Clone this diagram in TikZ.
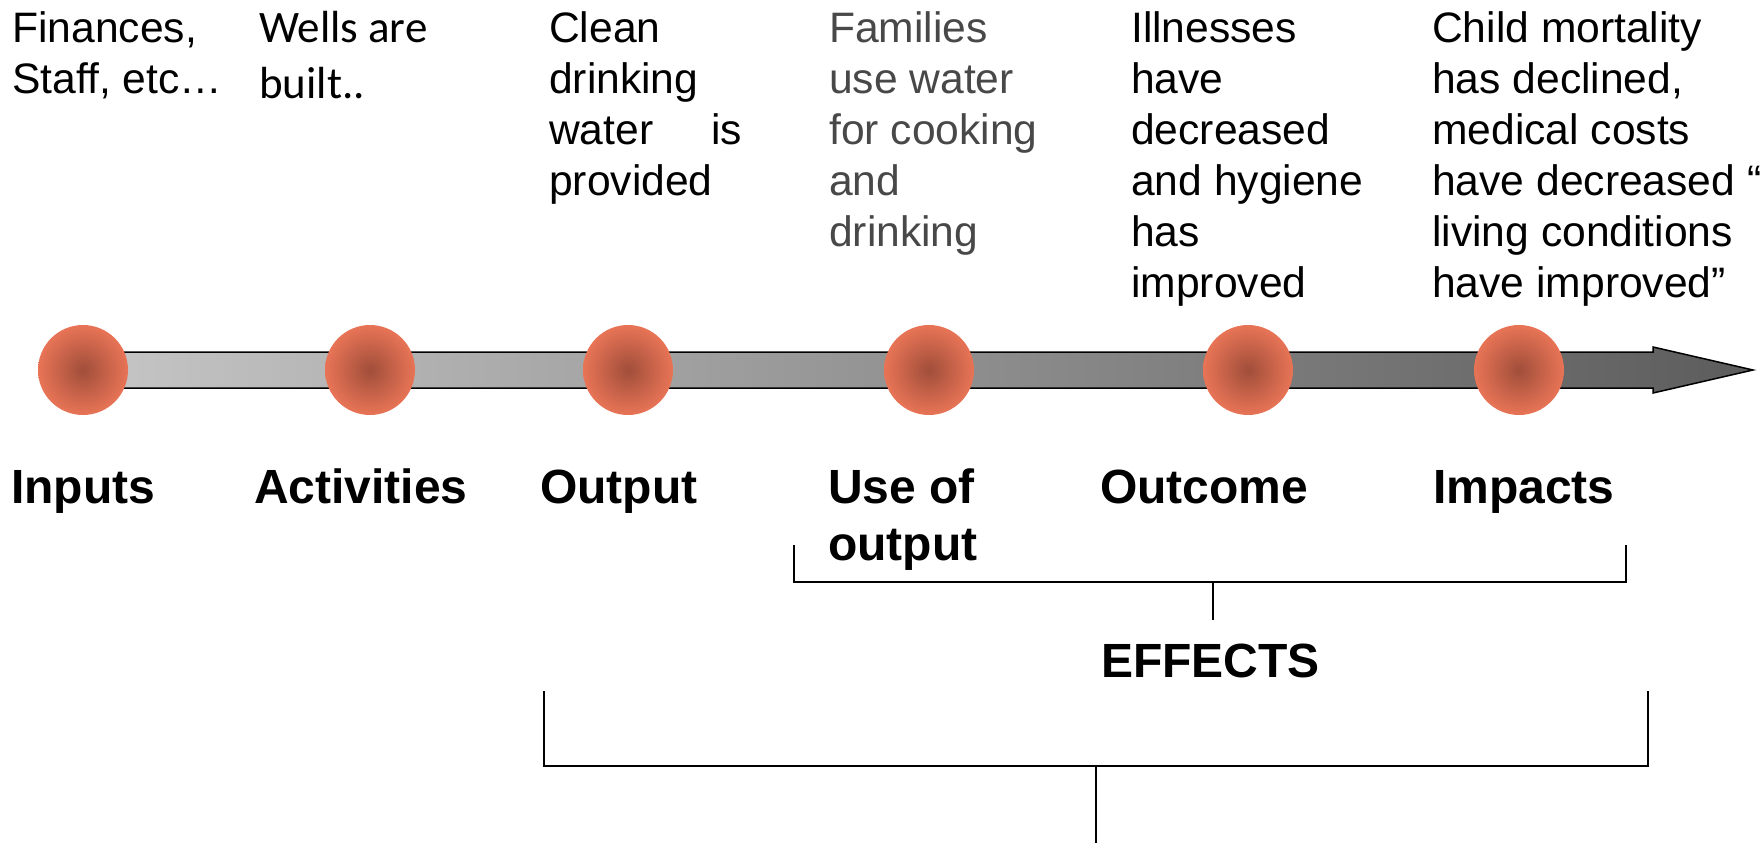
\documentclass[tikz,border=0pt]{standalone}
\usepackage{fontspec}
\setmainfont{Liberation Sans}
\newfontfamily\calib{Carlito}
\definecolor{dotin}{RGB}{160,78,58}
\definecolor{dotout}{RGB}{232,116,86}
\definecolor{barl}{RGB}{198,198,198}
\definecolor{barr}{RGB}{92,92,92}
\definecolor{graytxt}{RGB}{72,72,72}
\tikzset{
  dot/.style={circle, minimum size=90pt, inner sep=0pt, shading=radial, inner color=dotin, outer color=dotout},
  toptext/.style={anchor=base west, inner sep=0pt, font=\fontsize{42.6}{51}\selectfont},
  lbl/.style={anchor=base west, inner sep=0pt, font=\fontsize{48}{57}\selectfont\bfseries},
  brk/.style={draw=black, line width=1.5pt}
}
\begin{document}
\begin{tikzpicture}[x=1pt,y=-1pt]
\useasboundingbox (0,0) rectangle (1764,843);
% bar arrow
\draw[line width=1.5pt, left color=barl, right color=barr]
  (83,352) -- (1653,352) -- (1653,347) -- (1753,370) -- (1653,393) -- (1653,388) -- (83,388) -- cycle;
% dots
\node[dot] (c1) at (83,370) {};
\node[dot] (c2) at (370,370) {};
\node[dot] (c3) at (628,370) {};
\node[dot] (c4) at (929,370) {};
\node[dot] (c5) at (1248,370) {};
\node[dot] (c6) at (1519,370) {};
% top texts
\node[toptext] (t1) at (12,43) {\parbox[t]{220pt}{\raggedright Finances,\\Staff, etc…}};
\node[toptext, font=\calib\fontsize{45}{56}\selectfont] (t2) at (259,43) {\parbox[t]{220pt}{\raggedright Wells are\\built..}};
\node[toptext] (t3) at (549,43) {\parbox[t]{193pt}{\raggedright Clean\\drinking\\\makebox[193pt][l]{water\hfill is}\\provided}};
\node[toptext, text=graytxt] (t4) at (829,43) {\parbox[t]{260pt}{\raggedright Families\\use water\\for cooking\\and\\drinking}};
\node[toptext] (t5) at (1131,43) {\parbox[t]{260pt}{\raggedright Illnesses\\have\\decreased\\and hygiene\\has\\improved}};
\node[toptext] (t6) at (1432,43) {\parbox[t]{330pt}{\raggedright Child mortality\\has declined,\\medical costs\\have decreased “\\living conditions\\have improved”}};
% labels
\node[lbl] (l1) at (11,503) {Inputs};
\node[lbl] (l2) at (254,503) {Activities};
\node[lbl] (l3) at (540,503) {Output};
\node[lbl] (l4) at (828,503) {\parbox[t]{200pt}{\raggedright Use of\\output}};
\node[lbl] (l5) at (1100,503) {Outcome};
\node[lbl] (l6) at (1433,503) {Impacts};
\node[lbl] (eff) at (1101,677) {EFFECTS};
% upper bracket
\coordinate (ua) at (794,545);
\coordinate (ub) at (1626,545);
\coordinate (us) at (1213,582);
\coordinate (ue) at (1213,620);
\draw[brk] (ua) |- (us) -| (ub);
\draw[brk] (us) -- (ue);
% lower bracket
\coordinate (la) at (544,691);
\coordinate (lb) at (1648,691);
\coordinate (ls) at (1096,766);
\coordinate (le) at (1096,843);
\draw[brk] (la) |- (ls) -| (lb);
\draw[brk] (ls) -- (le);
\end{tikzpicture}
\end{document}
